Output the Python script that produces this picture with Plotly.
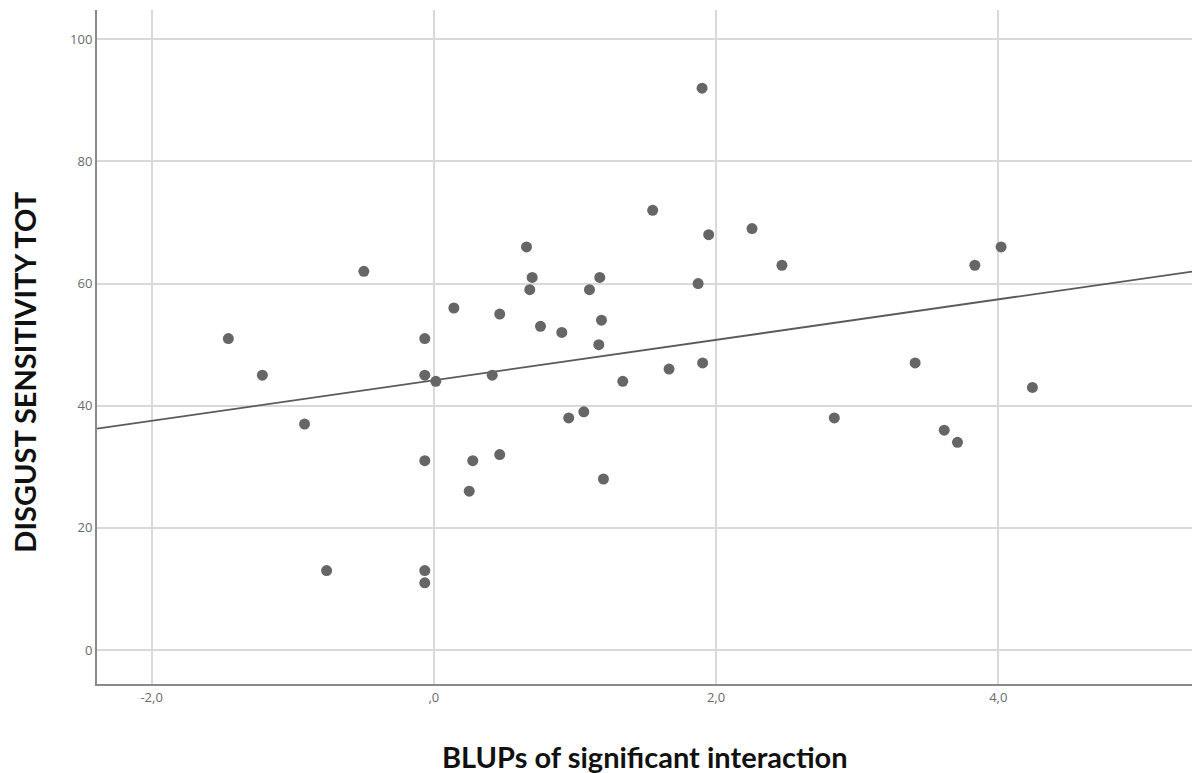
import numpy as np
import plotly.graph_objects as go

blups = [-1.456, -1.215, -0.916, -0.760, -0.496, -0.064, -0.064, 0.014, -0.064, -0.064,
         -0.064, 0.142, 0.467, 0.414, 0.276, 0.467, 0.251, 0.657, 0.697, 0.680,
         0.756, 0.907, 0.956, 1.063, 1.103, 1.176, 1.188, 1.169, 1.202, 1.339,
         1.551, 1.667, 1.873, 1.901, 1.905, 1.948, 2.255, 2.467, 2.838, 3.411,
         3.617, 3.711, 3.834, 4.020, 4.242]
disgust = [51, 45, 37, 13, 62, 51, 45, 44, 31, 13,
           11, 56, 55, 45, 31, 32, 26, 66, 61, 59,
           53, 52, 38, 39, 59, 61, 54, 50, 28, 44,
           72, 46, 60, 92, 47, 68, 69, 63, 38, 47,
           36, 34, 63, 66, 43]

x_tickvals = [-2, 0, 2, 4]
x_ticktext = ["-2,0", ",0", "2,0", "4,0"]
y_tickvals = [0, 20, 40, 60, 80, 100]

x_range = [-2.387, 5.373]
y_range = [-5.57, 104.8]

slope, intercept = np.polyfit(blups, disgust, 1)
fit_x = np.array(x_range)
fit_y = intercept + slope * fit_x

fig = go.Figure()
fig.add_trace(go.Scatter(x=fit_x, y=fit_y, mode="lines",
                         line=dict(color="#5a5a5a", width=1.8), hoverinfo="skip"))
fig.add_trace(go.Scatter(x=blups, y=disgust, mode="markers",
                         marker=dict(color="#666666", size=11, line=dict(width=0))))

fig.update_layout(
    width=1192, height=773,
    margin=dict(l=97, r=0, t=10, b=89),
    paper_bgcolor="white", plot_bgcolor="white",
    showlegend=False,
    font=dict(family="Open Sans", color="#666666", size=13),
)
fig.update_xaxes(range=x_range, tickvals=x_tickvals, ticktext=x_ticktext,
                 showgrid=True, gridcolor="#d9d9d9", gridwidth=1.5,
                 showline=True, linecolor="#8a8a8a", linewidth=2,
                 zeroline=False, ticks="", ticklen=0,
                 tickfont=dict(size=13, color="#6a6a6a"))
fig.update_yaxes(range=y_range, tickvals=y_tickvals,
                 showgrid=True, gridcolor="#d9d9d9", gridwidth=1.5,
                 showline=True, linecolor="#8a8a8a", linewidth=2,
                 zeroline=False, ticks="", ticklen=0,
                 tickfont=dict(size=13, color="#6a6a6a"))

fig.add_annotation(text="<b>BLUPs of significant interaction</b>", xref="paper", yref="paper",
                   x=0.5, y=-0.108, xanchor="center", yanchor="middle", showarrow=False,
                   font=dict(family="Lato", size=29, color="#111111"))
fig.add_annotation(text="<b>DISGUST SENSITIVITY TOT</b>", xref="paper", yref="paper",
                   x=-0.066, y=0.463, xanchor="center", yanchor="middle", showarrow=False,
                   textangle=-90, font=dict(family="Lato", size=29, color="#111111"))

fig.write_html("out.html", config={"displayModeBar": False},
               post_script="document.body.style.margin='0';document.body.style.overflow='hidden';")
